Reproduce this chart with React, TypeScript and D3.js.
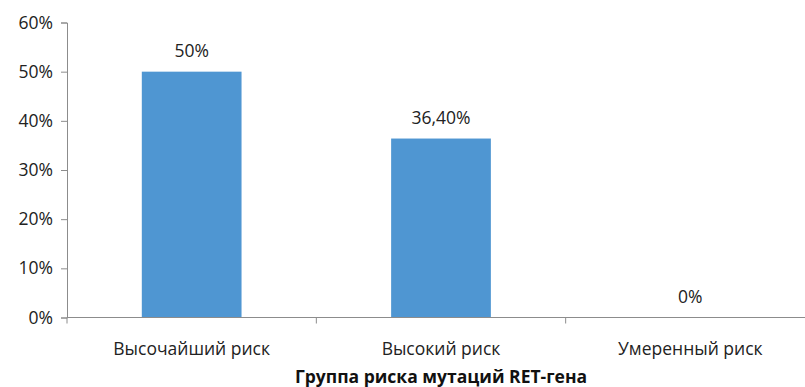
import * as d3 from 'd3';
import { useRef, useEffect } from 'react';

const categories = ['Высочайший риск', 'Высокий риск', 'Умеренный риск'];
const values = [50, 36.4, 0];
const valueLabels = ['50%', '36,40%', '0%'];
const yTicks = [0, 10, 20, 30, 40, 50, 60];
const xTitle = 'Группа риска мутаций RET-гена';

export default function App() {
  const ref = useRef<SVGSVGElement>(null);

  useEffect(() => {
    const width = 805;
    const height = 387;
    const font = '"Open Sans", "Liberation Sans", sans-serif';
    const fs = 17.5;

    const svg = d3.select(ref.current)
      .attr('width', width)
      .attr('height', height)
      .style('position', 'absolute')
      .style('left', '0px')
      .style('top', '0px')
      .style('font-family', font);
    svg.selectAll('*').remove();

    // x: bands, the last one runs off the right edge
    const x = d3.scaleBand()
      .domain(categories)
      .range([67, 815])
      .paddingInner(0.6)
      .paddingOuter(0.3);

    const y = d3.scaleLinear()
      .domain([0, 60])
      .range([317.5, 22.5]);

    // bars
    svg.append('g')
      .selectAll('rect')
      .data(values)
      .join('rect')
      .attr('x', (d, i) => x(categories[i])!)
      .attr('width', x.bandwidth())
      .attr('y', d => y(d))
      .attr('height', d => y(0) - y(d))
      .attr('fill', '#4f96d2');

    // value labels
    svg.append('g')
      .selectAll('text')
      .data(values)
      .join('text')
      .attr('x', (d, i) => x(categories[i])! + x.bandwidth() / 2)
      .attr('y', d => y(d) - 15)
      .attr('text-anchor', 'middle')
      .attr('font-size', fs)
      .attr('fill', '#222')
      .text((d, i) => valueLabels[i]);

    // y axis
    const yAxis = svg.append('g')
      .attr('transform', 'translate(67,0)')
      .call(d3.axisLeft(y).tickValues(yTicks).tickSize(6).tickPadding(8).tickFormat(d => `${d}%`));
    yAxis.select('.domain').attr('stroke', '#8c8c8c');
    yAxis.selectAll('.tick line').attr('stroke', '#8c8c8c');
    yAxis.selectAll('.tick text')
      .attr('font-size', fs)
      .attr('font-family', font)
      .attr('fill', '#222');

    // x axis with ticks at band boundaries
    const xAxisG = svg.append('g');
    xAxisG.append('line')
      .attr('x1', 67).attr('x2', 815)
      .attr('y1', y(0)).attr('y2', y(0))
      .attr('stroke', '#8c8c8c');
    const step = x.step();
    const bounds = [67, ...categories.map(c => x(c)! - (step - x.bandwidth()) / 2 + step)];
    xAxisG.selectAll('line.tk')
      .data(bounds)
      .join('line')
      .attr('class', 'tk')
      .attr('x1', d => d).attr('x2', d => d)
      .attr('y1', y(0)).attr('y2', y(0) + 6)
      .attr('stroke', '#8c8c8c');

    xAxisG.selectAll('text')
      .data(categories)
      .join('text')
      .attr('x', d => x(d)! + x.bandwidth() / 2)
      .attr('y', 355)
      .attr('text-anchor', 'middle')
      .attr('font-size', fs)
      .attr('fill', '#222')
      .text(d => d);

    // axis title
    svg.append('text')
      .attr('x', 441)
      .attr('y', 382.5)
      .attr('text-anchor', 'middle')
      .attr('font-size', fs)
      .attr('font-weight', 'bold')
      .attr('fill', '#111')
      .text(xTitle);
  }, []);

  return <svg ref={ref}></svg>;
}
